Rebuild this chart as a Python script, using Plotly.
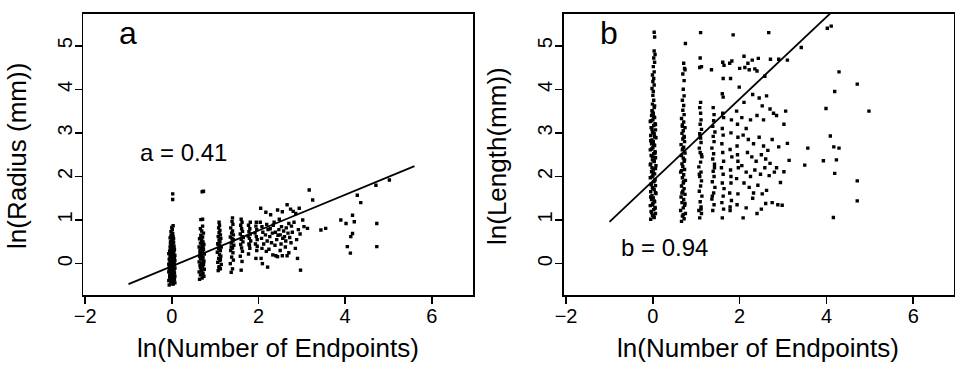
import plotly.graph_objects as go

# ---------------- data ----------------
x_ticks = [-2, 0, 2, 4, 6]
y_ticks = [0, 1, 2, 3, 4, 5]

# regression fits: (intercept, slope, x_start, x_end)
fit_a = (-0.06, 0.41, -1.0, 5.6)
fit_b = (1.90, 0.94, -1.0, 4.6)
label_a = "a = 0.41"
label_b = "b = 0.94"

# Panel a: ln(Radius) vs ln(Number of Endpoints), grouped by column
a_c0 = [(-0.06,-0.49),(0.03,-0.47),(0.07,-0.44),(-0.02,-0.43),(0.05,-0.41),(-0.07,-0.39),(0.01,-0.38),(0.06,-0.36),
        (-0.03,-0.34),(0.04,-0.32),(-0.05,-0.31),(0.07,-0.29),(0.00,-0.27),(-0.04,-0.26),(0.03,-0.24),(-0.01,-0.23),
        (0.06,-0.21),(-0.07,-0.19),(0.02,-0.18),(-0.03,-0.16),(0.05,-0.14),(0.00,-0.13),(-0.06,-0.12),(0.07,-0.10),
        (-0.02,-0.08),(0.03,-0.07),(-0.05,-0.05),(0.01,-0.04),(0.06,-0.02),(-0.07,-0.01),(0.02,0.01),(-0.01,0.02),
        (0.05,0.04),(-0.04,0.05),(0.07,0.07),(0.00,0.08),(-0.06,0.10),(0.03,0.11),(-0.02,0.13),(0.06,0.14),
        (-0.04,0.16),(0.01,0.17),(0.07,0.19),(-0.03,0.20),(0.02,0.22),(-0.07,0.23),(0.04,0.25),(-0.01,0.26),
        (0.03,0.28),(-0.05,0.29),(0.00,0.31),(0.06,0.33),(-0.02,0.34),(0.02,0.36),(-0.04,0.38),(0.05,0.40),
        (-0.01,0.42),(0.01,0.44),(-0.03,0.46),(0.04,0.48),(-0.02,0.51),(0.02,0.53),(0.00,0.56),(-0.04,0.59),
        (0.03,0.62),(-0.01,0.65),(0.02,0.69),(-0.02,0.73),(0.01,0.78),(0.00,0.83),(0.03,0.87),
        (0.01,-0.46),(-0.02,-0.40),(0.05,-0.35),(-0.05,-0.28),(0.02,-0.22),(-0.01,-0.17),(0.06,-0.11),(-0.06,-0.06),
        (0.00,0.00),(0.04,0.06),(-0.03,0.12),(0.02,0.18),(-0.05,0.24),(0.05,0.30),(-0.01,0.37),(0.00,0.43),
        (-0.03,0.50),(0.04,0.57),(-0.02,0.63),(0.01,-0.33),(-0.03,-0.20),(0.03,-0.09),(-0.02,0.03),(0.01,0.15),
        (-0.04,0.27),(0.02,0.39),(0.05,-0.25),(-0.05,0.09),(0.04,0.21),(0.02,1.47),(0.02,1.60)]
a_c1 = [(0.64,-0.36),(0.70,-0.33),(0.74,-0.29),(0.66,-0.26),(0.72,-0.22),(0.63,-0.19),(0.69,-0.16),(0.75,-0.13),
        (0.67,-0.10),(0.71,-0.07),(0.65,-0.04),(0.73,-0.02),(0.68,0.01),(0.63,0.04),(0.74,0.06),(0.70,0.09),
        (0.66,0.12),(0.72,0.14),(0.64,0.17),(0.69,0.19),(0.75,0.22),(0.67,0.25),(0.71,0.27),(0.65,0.30),
        (0.73,0.33),(0.68,0.35),(0.63,0.38),(0.70,0.41),(0.74,0.44),(0.66,0.47),(0.72,0.50),(0.69,0.53),
        (0.64,0.57),(0.71,0.61),(0.67,0.65),(0.73,0.70),(0.69,0.75),(0.66,0.80),(0.71,0.86),(0.70,-0.24),
        (0.66,-0.09),(0.73,0.03),(0.68,0.16),(0.65,0.24),(0.72,0.37),(0.70,0.46),(0.67,0.59),
        (0.67,1.01),(0.71,1.02),(0.70,1.65),(0.73,1.66)]
a_c2 = [(1.07,-0.16),(1.12,-0.12),(1.09,-0.07),(1.14,-0.02),(1.06,0.03),(1.11,0.07),(1.08,0.12),(1.13,0.17),
        (1.10,0.21),(1.05,0.26),(1.12,0.30),(1.08,0.34),(1.14,0.38),(1.10,0.42),(1.06,0.46),(1.11,0.50),
        (1.09,0.54),(1.13,0.58),(1.07,0.62),(1.12,0.66),(1.09,0.71),(1.11,0.76),(1.08,0.82),(1.10,0.88),
        (1.09,0.95),(1.12,0.10),(1.07,0.44),(1.11,0.57),(1.09,-0.10)]
a_c3 = [(1.37,-0.20),(1.40,-0.12),(1.35,0.00),(1.42,0.08),(1.38,0.15),(1.41,0.25),(1.36,0.30),(1.40,0.36),
        (1.43,0.42),(1.37,0.47),(1.41,0.52),(1.39,0.57),(1.35,0.61),(1.42,0.66),(1.38,0.70),(1.40,0.75),
        (1.36,0.82),(1.41,0.90),(1.39,0.97),(1.40,1.05),(1.42,0.55),(1.37,0.38)]
a_c4 = [(1.60,-0.15),(1.62,0.05),(1.58,0.17),(1.63,0.28),(1.61,0.36),(1.59,0.44),(1.64,0.50),(1.60,0.56),
        (1.62,0.62),(1.58,0.68),(1.63,0.74),(1.61,0.80),(1.59,0.88),(1.62,0.95),(1.60,1.02),(1.65,0.60)]
a_c5 = [(1.77,0.22),(1.80,0.35),(1.78,0.45),(1.82,0.52),(1.79,0.58),(1.76,0.63),(1.81,0.68),(1.78,0.73),
        (1.80,0.80),(1.77,0.88),(1.81,0.95),(1.79,0.42)]
a_c6 = [(1.94,0.12),(1.96,0.30),(1.93,0.45),(1.97,0.55),(1.95,0.62),(1.92,0.70),(1.96,0.78),(1.94,0.86),
        (1.95,0.95),(1.97,0.40)]
a_cloud = [(2.05,1.27),(2.09,0.00),(2.06,0.12),(2.08,0.35),(2.07,0.58),(2.10,0.72),(2.08,0.85),(2.04,0.95),
           (2.17,1.18),(2.21,-0.08),(2.18,0.28),(2.20,0.52),(2.16,0.66),(2.22,0.78),(2.19,0.90),
           (2.28,1.12),(2.24,0.33),(2.30,0.48),(2.26,0.62),(2.32,0.70),(2.27,0.80),(2.34,0.88),
           (2.40,0.18),(2.44,0.16),(2.38,0.42),(2.42,0.55),(2.45,0.65),(2.39,0.72),(2.47,0.78),(2.44,1.23),(2.36,0.95),
           (2.50,0.30),(2.55,0.18),(2.52,0.45),(2.56,0.58),(2.50,0.66),(2.58,0.75),(2.53,0.85),(2.55,1.19),(2.48,1.02),
           (2.62,0.38),(2.66,0.18),(2.63,0.52),(2.66,1.35),(2.60,0.62),(2.68,0.70),(2.64,0.82),(2.70,0.92),
           (2.74,1.25),(2.75,0.48),(2.72,0.60),(2.78,0.72),(2.76,0.86),(2.80,1.20),(2.82,0.95),
           (2.86,1.15),(2.90,0.12),(2.88,0.55),(2.92,0.78),(2.94,1.27),(2.97,-0.15),(2.96,0.68),
           (3.02,1.00),(3.05,0.85),(3.13,0.81),(3.17,1.69),(3.25,1.46),(2.85,0.35),(2.70,0.25),(2.33,0.20),(2.12,0.45)]
a_far = [(3.44,0.77),(3.55,0.81),(3.90,1.00),(4.02,0.92),(4.17,1.11),(4.21,0.96),(4.13,0.62),(4.17,0.69),
         (4.05,0.39),(4.12,0.24),(4.28,1.57),(4.36,1.40),(4.71,1.80),(5.02,1.92),(4.73,0.92),(4.73,0.39)]

# Panel b: ln(Length) vs ln(Number of Endpoints), grouped by column
b_c0 = [(-0.05,1.02),(0.03,1.06),(-0.01,1.11),(0.06,1.15),(-0.04,1.20),(0.02,1.24),(0.05,1.29),(-0.06,1.33),
        (0.00,1.38),(0.04,1.42),(-0.03,1.47),(0.01,1.51),(-0.02,1.56),(0.07,1.61),(-0.05,1.65),(0.03,1.70),
        (-0.01,1.74),(0.06,1.79),(-0.04,1.83),(0.02,1.88),(0.05,1.93),(-0.06,1.97),(0.00,2.02),(0.04,2.06),
        (-0.03,2.11),(0.01,2.16),(-0.02,2.20),(0.07,2.25),(-0.05,2.29),(0.03,2.34),(-0.01,2.38),(0.06,2.43),
        (-0.04,2.48),(0.02,2.52),(0.05,2.57),(-0.06,2.61),(0.00,2.66),(0.04,2.71),(-0.03,2.75),(0.01,2.80),
        (-0.02,2.84),(0.07,2.89),(-0.05,2.94),(0.03,2.98),(-0.01,3.03),(0.06,3.07),(-0.04,3.12),(0.02,3.17),
        (0.05,3.21),(-0.06,3.26),(0.00,3.30),(0.04,3.35),(-0.03,3.40),(0.01,3.45),(-0.02,3.51),(0.03,3.58),
        (-0.01,3.66),(0.02,3.75),(0.00,3.86),
        (0.02,1.08),(-0.03,1.17),(0.05,1.27),(-0.01,1.35),(0.03,1.44),(-0.05,1.53),(0.06,1.63),(0.00,1.72),
        (-0.04,1.81),(0.04,1.90),(-0.02,1.99),(0.01,2.08),(0.06,2.18),(-0.06,2.27),(0.03,2.36),(-0.01,2.45),
        (0.05,2.54),(-0.03,2.63),(0.02,2.73),(-0.05,2.82),(0.04,2.91),(0.00,3.00),(-0.02,3.09),(0.06,3.19),
        (-0.04,3.28),(0.02,3.37),(-0.01,3.48),(0.04,3.62),
        (0.01,3.95),(-0.02,4.02),(0.03,4.10),(0.00,4.18),(0.02,4.25),(-0.01,4.33),(0.03,4.40),(0.01,4.52),
        (0.04,4.62),(0.02,4.72),(0.05,4.80),(0.03,4.88),(0.04,5.20),(0.03,5.31)]
b_c1 = [(0.66,0.97),(0.72,1.03),(0.68,1.09),(0.75,1.15),(0.64,1.22),(0.70,1.28),(0.73,1.34),(0.67,1.40),
        (0.71,1.47),(0.65,1.53),(0.74,1.59),(0.69,1.66),(0.72,1.72),(0.66,1.78),(0.70,1.85),(0.75,1.91),
        (0.68,1.97),(0.71,2.04),(0.64,2.10),(0.73,2.16),(0.69,2.23),(0.67,2.29),(0.72,2.35),(0.70,2.42),
        (0.66,2.48),(0.74,2.54),(0.68,2.61),(0.71,2.67),(0.65,2.73),(0.73,2.80),(0.69,2.86),(0.72,2.92),
        (0.67,2.99),(0.70,3.05),(0.74,3.12),(0.68,3.18),(0.71,3.25),(0.66,3.33),(0.72,3.42),(0.69,3.52),
        (0.71,3.63),(0.68,3.75),(0.72,3.85),(0.70,1.12),(0.74,1.38),(0.67,1.62),(0.71,1.88),(0.66,2.13),
        (0.73,2.38),(0.69,2.64),(0.72,2.90),(0.68,3.15),(0.70,4.00),(0.72,4.20),(0.69,4.35),(0.73,4.48),
        (0.71,4.60),(0.74,4.45),(0.75,5.05)]
b_c2 = [(1.08,1.05),(1.12,1.15),(1.06,1.22),(1.11,1.30),(1.09,1.42),(1.13,1.55),(1.07,1.66),(1.10,1.78),
        (1.12,1.90),(1.08,2.00),(1.11,2.10),(1.06,2.22),(1.10,2.33),(1.13,2.45),(1.09,2.55),(1.07,2.65),
        (1.11,2.78),(1.10,2.88),(1.08,2.98),(1.12,3.08),(1.09,3.20),(1.11,3.30),(1.10,3.45),(1.08,3.58),
        (1.10,3.70),(1.08,4.50),(1.12,4.52),(1.09,4.72),(1.10,5.30),(1.11,1.25),(1.07,2.05),(1.12,2.50),(1.09,2.92)]
b_c3 = [(1.38,1.22),(1.41,1.35),(1.36,1.48),(1.40,1.62),(1.43,1.75),(1.37,1.88),(1.41,2.00),(1.39,2.12),
        (1.42,2.28),(1.38,2.40),(1.40,2.52),(1.36,2.65),(1.41,2.80),(1.39,2.92),(1.43,3.02),(1.38,3.15),
        (1.40,3.28),(1.41,3.42),(1.39,3.58),(1.35,4.45),(1.42,2.20),(1.37,1.55)]
b_c4 = [(1.60,1.05),(1.63,1.25),(1.59,1.40),(1.62,1.55),(1.64,1.72),(1.60,1.85),(1.62,2.05),(1.58,2.20),
        (1.63,2.35),(1.61,2.55),(1.59,2.75),(1.62,2.95),(1.60,3.10),(1.63,3.35),(1.61,3.45),(1.62,3.82),
        (1.60,3.90),(1.62,4.25),(1.64,4.55),(1.61,4.62)]
b_c5 = [(1.78,1.22),(1.81,1.45),(1.77,1.62),(1.80,1.85),(1.79,2.15),(1.82,2.45),(1.78,2.62),(1.80,3.00),
        (1.81,3.30),(1.79,4.25),(1.77,4.60),(1.82,4.65),(1.80,2.00),(1.78,1.30)]
b_c6 = [(1.94,1.35),(1.96,1.60),(1.93,1.95),(1.97,2.20),(1.95,2.50),(1.94,2.70),(1.96,2.90),(1.95,3.20),
        (1.93,3.50),(1.99,4.05),(1.96,2.35)]
b_cloud = [(2.10,4.76),(2.19,4.60),(2.29,4.67),(2.43,4.71),(2.71,4.69),(2.90,4.69),(3.10,4.67),(2.00,4.48),
           (2.12,4.50),(2.22,4.45),(2.35,4.47),(2.40,4.42),(2.58,4.30),(2.67,5.30),(1.85,5.25),(3.42,4.96),
           (2.10,3.70),(2.30,3.88),(2.45,3.80),(2.52,3.62),(2.62,3.85),(2.70,3.55),(2.78,3.45),(2.85,3.40),
           (3.06,3.50),(3.02,3.20),(2.55,3.30),(2.40,3.40),(2.25,3.30),(2.15,3.10),(2.05,3.35),
           (2.08,2.95),(2.20,2.85),(2.32,2.75),(2.45,2.90),(2.55,2.70),(2.65,2.60),(2.75,2.85),(2.90,2.68),
           (3.10,2.76),(2.18,2.55),(2.28,2.45),(2.38,2.35),(2.50,2.50),(2.60,2.40),(2.70,2.30),(2.85,2.20),
           (3.14,2.37),(3.02,2.11),(2.05,2.25),(2.15,2.10),(2.25,2.00),(2.35,2.15),(2.48,2.05),(2.58,2.20),
           (2.68,2.02),(2.80,2.10),(2.94,1.86),(2.10,1.85),(2.22,1.75),(2.32,1.62),(2.42,1.80),(2.52,1.60),
           (2.62,1.68),(2.75,1.40),(2.88,1.35),(2.98,1.34),(2.08,1.05),(2.15,1.28),(2.30,1.50),(2.50,1.25),
           (2.60,1.38),(2.40,1.15)]
b_far = [(3.57,2.65),(3.50,2.26),(4.02,5.40),(4.11,5.45),(4.29,4.40),(4.71,4.12),(4.98,3.50),(4.19,3.95),
         (3.99,3.56),(4.09,2.93),(4.17,2.68),(4.29,2.65),(4.23,2.38),(3.93,2.36),(4.19,2.07),(4.71,1.90),
         (4.71,1.44),(4.16,1.06)]

panel_a_groups = [a_c0, a_c1, a_c2, a_c3, a_c4, a_c5, a_c6, a_cloud, a_far]
panel_b_groups = [b_c0, b_c1, b_c2, b_c3, b_c4, b_c5, b_c6, b_cloud, b_far]

# ---------------- figure ----------------
W, H = 955, 365
FONT = "Liberation Sans, Arial, Helvetica, sans-serif"

def unzip(groups):
    xs = [p[0] for g in groups for p in g]
    ys = [p[1] for g in groups for p in g]
    return xs, ys

fig = go.Figure()

for groups, fit, xa, ya in [(panel_a_groups, fit_a, "x", "y"), (panel_b_groups, fit_b, "x2", "y2")]:
    xs, ys = unzip(groups)
    fig.add_trace(go.Scatter(x=xs, y=ys, mode="markers", xaxis=xa, yaxis=ya,
                             marker=dict(symbol="square", size=3.4, color="black", line=dict(width=0)),
                             showlegend=False, hoverinfo="skip"))
    b0, b1, x0, x1 = fit
    fig.add_trace(go.Scatter(x=[x0, x1], y=[b0 + b1 * x0, b0 + b1 * x1], mode="lines",
                             xaxis=xa, yaxis=ya, line=dict(color="black", width=1.8),
                             showlegend=False, hoverinfo="skip"))

def px_x(p):
    return p / W

def px_y(p):
    return 1 - p / H

ydom = [px_y(295), px_y(13.5)]
axis_common = dict(showline=True, mirror=True, linecolor="black", linewidth=1.5,
                   ticks="outside", ticklen=7, tickwidth=1.5, tickcolor="black",
                   showgrid=False, zeroline=False, automargin=False,
                   tickfont=dict(family=FONT, size=20, color="black"))

fig.update_layout(
    width=W, height=H,
    margin=dict(l=0, r=0, t=0, b=0, pad=0),
    paper_bgcolor="white", plot_bgcolor="white",
    xaxis=dict(domain=[px_x(83), px_x(473)], range=[-2.05, 6.95], tickvals=x_ticks, anchor="y",
               ticklabelstandoff=-5, **axis_common),
    yaxis=dict(domain=ydom, range=[-0.72, 5.74], tickvals=y_ticks, tickangle=-90, anchor="x",
               ticklabelstandoff=-5, **axis_common),
    xaxis2=dict(domain=[px_x(563.5), px_x(954)], range=[-2.06, 6.94], tickvals=x_ticks, anchor="y2",
                ticklabelstandoff=-5, **axis_common),
    yaxis2=dict(domain=ydom, range=[-0.72, 5.74], tickvals=y_ticks, tickangle=-90, anchor="x2",
                ticklabelstandoff=-5, **axis_common),
)

ann = []
def text(x, y, s, size, angle=0):
    ann.append(dict(x=px_x(x), y=px_y(y), xref="paper", yref="paper", text=s, showarrow=False,
                    xanchor="center", yanchor="middle", textangle=angle,
                    font=dict(family=FONT, size=size, color="black")))

# axis titles
text(278, 348, "ln(Number of Endpoints)", 26)
text(758, 348, "ln(Number of Endpoints)", 26)
text(17, 156, "ln(Radius (mm))", 26, -90)
text(497, 156, "ln(Length(mm))", 26, -90)
# panel letters
text(128, 33, "a", 32)
text(609, 33, "b", 32)
# slope labels
text(183, 153, label_a, 24)
text(664, 247, label_b, 24)

fig.update_layout(annotations=ann)
fig.write_html("out.html", config={"displayModeBar": False, "staticPlot": True},
               post_script="document.body.style.margin='0px';document.body.style.overflow='hidden';")
